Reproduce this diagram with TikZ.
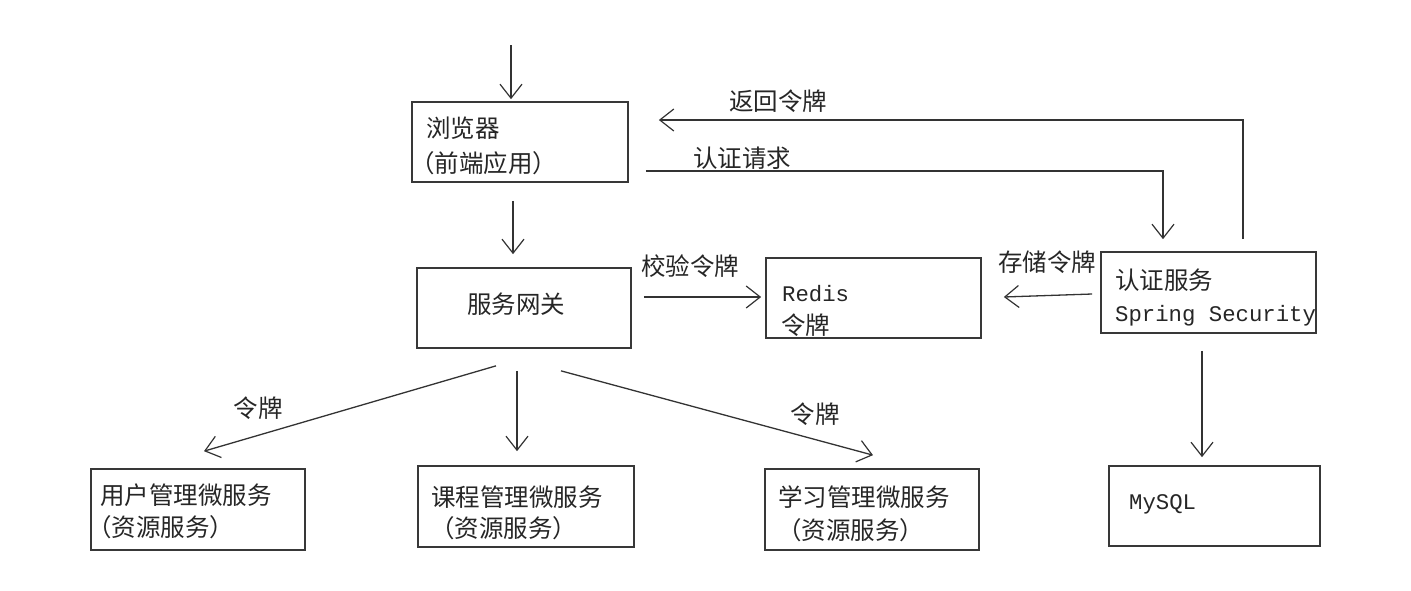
\documentclass[tikz,border=0pt]{standalone}
\usepackage{fontspec}
\newfontfamily\cjk{Noto Sans CJK SC}
\setmonofont{Liberation Mono}
\usetikzlibrary{arrows.meta,calc}
\begin{document}
\begin{tikzpicture}[x=1pt,y=-1pt,
  box/.style={draw=black!78, line width=1.7pt, inner sep=0pt},
  zh/.style={font=\cjk\fontsize{24.5}{28}\selectfont, text=black!85, inner sep=0pt},
  en/.style={font=\ttfamily\fontsize{22.3}{26}\selectfont, text=black!85, inner sep=0pt},
  arr/.style={draw=black!80, line width=1.3pt, -{Straight Barb[length=14pt,width=22pt,line width=1.2pt]}},
  ln/.style={draw=black!80, line width=1.3pt}]
\useasboundingbox (0,0) rectangle (1411,590);
% boxes
\node[box, minimum width=216pt, minimum height=80pt] (browser) at (520,142) {};
\node[box, minimum width=214pt, minimum height=80pt] (gateway) at (524,308) {};
\node[box, minimum width=215pt, minimum height=80pt] (redis) at (873.5,298) {};
\node[box, minimum width=215pt, minimum height=81pt] (auth) at (1208.5,292.5) {};
\node[box, minimum width=211pt, minimum height=80pt] (mysql) at (1214.5,506) {};
\node[box, minimum width=214pt, minimum height=81pt] (user) at (198,509.5) {};
\node[box, minimum width=216pt, minimum height=81pt] (course) at (526,506.5) {};
\node[box, minimum width=214pt, minimum height=81pt] (study) at (872,509.5) {};
% box texts
\node[zh, anchor=west] (t1) at (426,128) {浏览器};
\node[zh, anchor=west] (t2) at (410,163) {（前端应用）};
\node[zh, anchor=west] (t3) at (467,304) {服务网关};
\node[en, anchor=west] (t4) at (782,294) {Redis};
\node[zh, anchor=west] (t5) at (781,325) {令牌};
\node[zh, anchor=west] (t6) at (1115,280) {认证服务};
\node[en, anchor=west] (t7) at (1115,316) {Spring Security};
\node[en, anchor=west] (t8) at (1129,504) {MySQL};
\node[zh, anchor=west] (t9) at (100,495) {用户管理微服务};
\node[zh, anchor=west] (t10) at (87,527) {（资源服务）};
\node[zh, anchor=west] (t11) at (431,497) {课程管理微服务};
\node[zh, anchor=west] (t12) at (430,528) {（资源服务）};
\node[zh, anchor=west] (t13) at (778,497) {学习管理微服务};
\node[zh, anchor=west] (t14) at (777,530) {（资源服务）};
% labels
\node[zh] (l1) at (778,101) {返回令牌};
\node[zh] (l2) at (742,158) {认证请求};
\node[zh] (l3) at (690,266) {校验令牌};
\node[zh] (l4) at (1047,262) {存储令牌};
\node[zh] (l5) at (258,408) {令牌};
\node[zh] (l6) at (815,414) {令牌};
% connectors
\coordinate (entry) at (511,45);
\draw[arr] (entry) -- ($(browser.north)+(-9,-2)$);
\draw[arr] ($(browser.south)+(-7,18)$) -- ($(gateway.north)+(-11,-13)$);
\draw[arr] ($(auth.north)+(34.5,-12)$) |- ($(browser.east)+(30,-22)$);
\draw[arr] ($(browser.east)+(17,29)$) -| ($(auth.north)+(-45.5,-12)$);
\draw[arr] ($(gateway.east)+(12,-11)$) -- ($(redis.west)+(-4,-1)$);
\draw[arr] ($(auth.west)+(-8,1.5)$) -- ($(redis.east)+(22,-1)$);
\draw[arr] ($(auth.south)+(-6.5,17)$) -- ($(mysql.north)+(-12.5,-8)$);
\draw[arr] ($(gateway.south)+(-28,17)$) -- ($(user.north)+(6,-17)$);
\draw[arr] ($(gateway.south)+(-7,22)$) -- ($(course.north)+(-9,-14)$);
\draw[arr] ($(gateway.south)+(37,22)$) -- ($(study.north)+(1,-13)$);
\end{tikzpicture}
\end{document}
